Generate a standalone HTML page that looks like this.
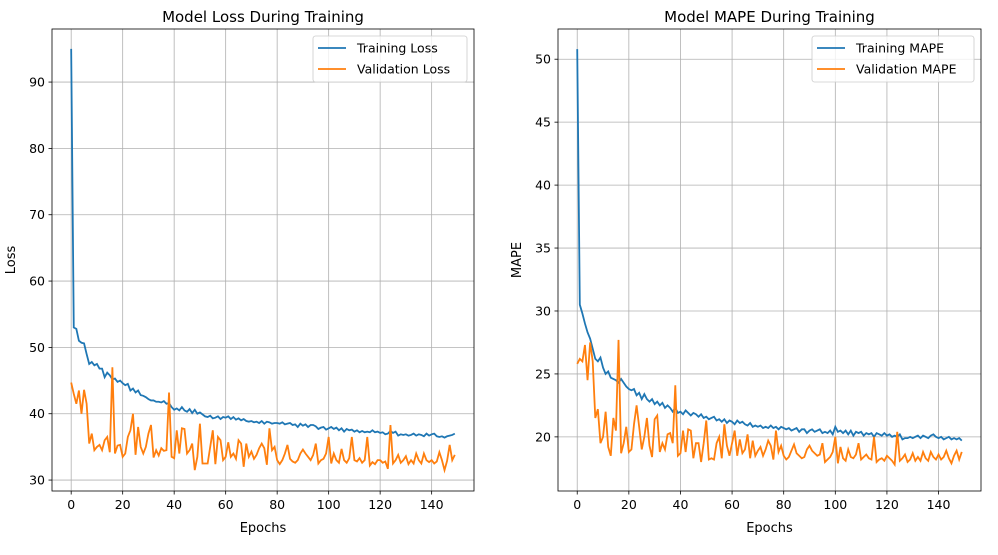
<!DOCTYPE html>
<html><head><meta charset="utf-8"><style>
body{margin:0;background:#fff;}
svg text{font-family:"DejaVu Sans","Liberation Sans",sans-serif;fill:#000;}
</style></head><body>
<svg id="fig" width="998" height="550" xmlns="http://www.w3.org/2000/svg"></svg>
<script>
const epochs = Array.from({length:150},(_,i)=>i);
const trainLoss = [95,53,52.8,51,50.7,50.6,49,47.5,47.8,47.3,47.5,46.8,46.8,45.5,46.2,45.8,45.2,45.3,44.8,45,44.6,44.3,44.5,43.5,43.8,43.2,43.5,42.8,42.7,42.5,42.2,42.0,42.0,41.8,41.8,41.7,41.9,41.5,41.6,41.0,40.6,40.8,40.5,41.0,40.5,40.3,40.7,40.1,40.6,40.0,40.2,39.9,39.6,39.5,39.7,39.3,39.4,39.6,39.2,39.5,39.4,39.6,39.2,39.5,39.1,39.3,39.0,39.2,38.9,38.8,38.9,38.7,38.8,38.6,38.9,38.5,38.8,38.7,38.5,38.6,38.6,38.5,38.7,38.4,38.5,38.6,38.3,38.4,38.0,38.5,38.2,38.4,38.0,38.3,38.3,38.1,37.7,37.9,38.0,37.6,37.8,38.0,37.7,37.9,37.5,37.8,37.3,37.7,37.5,37.6,37.3,37.5,37.2,37.4,37.2,37.3,37.2,37.5,37.2,37.3,37.1,37.2,36.9,37.0,37.4,37.1,37.3,36.7,36.9,36.8,36.9,36.7,36.8,37.0,36.7,36.9,36.8,36.6,37.0,36.7,36.9,37.0,36.6,36.5,36.6,36.4,36.6,36.7,36.8,37.0];
const valLoss = [44.7,43,41.5,43.5,40,43.6,41.5,35.5,37,34.5,35,35.3,34.5,36,36.5,34.2,47,34,35.2,35.3,33.5,34,36.5,37.5,40,33.8,38,35,34,35,37,38.3,33.4,34.5,33.7,34.8,34.4,34.5,43.2,33.5,33.3,37.5,34,37.8,37.7,34,34.5,35.5,31.5,33.5,38.5,32.5,32.5,32.5,35,37.5,32.4,36.5,36,33,33.5,35.7,33.5,34,33.2,36,35.5,32,35.5,33.5,34.3,33.2,33.8,34.8,35.5,34.8,32.3,37.8,34.5,35,33,32.4,33,34,35.3,33.2,32.8,32.6,33,34,34.6,34,33.5,33,33.8,35.5,32.5,33,33.2,34,36.5,32.5,34,33,32.6,34.7,33,32.6,33.3,36.5,33,32.8,33.3,32.6,33,36.5,32.2,32.7,32.4,33,33,32.6,32.8,31.7,38.3,32.5,33,33.8,32.6,33,33.6,32.4,33,32.5,34,33,32.5,34,33,32.7,33,32.5,32.8,34.2,33,31.5,32.9,35.3,33,33.8];
const trainMape = [50.8,30.5,29.8,29,28.3,27.8,27,26.2,26,26.3,25.5,25,25.2,24.7,24.6,24.5,24.3,24.6,24.3,24,23.8,23.7,23.8,23.3,23.5,23,23.4,23,22.8,23,22.6,22.8,22.5,22.7,22.3,22.5,22.3,22,22.3,21.9,22,21.8,22.1,21.9,21.7,21.9,21.8,21.6,21.8,21.5,21.6,21.4,21.5,21.6,21.3,21.4,21.2,21.4,21.1,21.3,21.2,21.0,21.3,21.1,21.2,21.0,20.9,21.1,20.8,20.9,20.8,20.9,20.7,20.8,20.7,20.9,20.7,20.8,20.6,20.8,20.7,20.6,20.7,20.5,20.6,20.7,20.4,20.6,20.6,20.3,20.5,20.6,20.4,20.5,20.6,20.3,20.4,20.3,20.5,20.2,20.8,20.4,20.5,20.3,20.5,20.2,20.5,20.1,20.4,20.3,20.4,20.1,20.3,20.2,20.3,20.0,20.3,20.2,20.1,20.3,20.1,20.2,20.0,20.1,20.0,20.2,19.8,19.9,19.9,20.0,19.9,20.0,20.1,19.9,20.1,20.0,19.9,20.1,20.2,20.0,19.9,20.0,19.8,19.9,20.0,19.8,19.9,19.8,19.9,19.7,19.9,20.0];
const valMape = [25.8,26.2,26,27.3,24.5,27.5,26,21.5,22.2,19.5,20,22,19.2,18.5,21.5,20.5,27.7,18.7,19.5,20.8,18.8,19,21,22.5,20.8,19,20,21.5,19.3,18.4,21.4,21.7,18.8,19.5,19,20.2,20.3,19.5,24.1,18.5,18.7,20.5,18.8,20.6,20.5,18.3,19.5,19.5,18,19.5,21.3,18.2,18.3,18.2,19.5,20,18.3,21,19.3,18.5,19.5,20.5,18.5,19.8,18.7,19,20.2,18.3,19.7,18.5,18.9,19.2,18.5,19,19.7,19.3,18.2,20.5,18.8,19.3,18.5,18.2,18.4,18.9,19.4,18.7,18.5,18.3,18.4,19,19.3,18.9,18.7,18.5,18.6,19.5,18,18.2,18.4,18.8,20,17.9,19.2,18.3,18.1,19,18.4,18.3,18.6,19.5,18.2,18.4,18.6,18.3,18.2,20,18,18.2,18.3,18.1,18.5,18.3,18.1,17.8,20.4,18.1,18.3,18.6,18,18.2,18.7,18.1,18.4,18.1,18.8,18.3,18.1,18.8,18.4,18.2,18.6,18.2,18.4,18.9,18.3,17.9,18.5,18.9,18.2,18.8,18.3];
const lossTicks=[30,40,50,60,70,80,90];
const mapeTicks=[20,25,30,35,40,45,50];
const xTicks=[0,20,40,60,80,100,120,140];

const NS="http://www.w3.org/2000/svg";
const svg=document.getElementById('fig');
function mk(tag,attrs,parent){const e=document.createElementNS(NS,tag);for(const k in attrs)e.setAttribute(k,attrs[k]);(parent||svg).appendChild(e);return e;}

function panel(cfg){
  const {L,R,T,B,xmin,xmax,ymin,ymax,yTicks,s1,s2,title,ylabel,n1,n2,prefix}=cfg;
  const g=mk('g',{});
  
  
  const X=v=>L+(v-xmin)/(xmax-xmin)*(R-L);
  const Y=v=>B-(v-ymin)/(ymax-ymin)*(B-T);
  xTicks.forEach(t=>{
    mk('line',{x1:X(t),x2:X(t),y1:T,y2:B,stroke:'#b0b0b0','stroke-width':0.8},g);
    mk('line',{x1:X(t),x2:X(t),y1:B,y2:B+3.5,stroke:'#000','stroke-width':0.8},g);
    const tx=mk('text',{x:X(t),y:B+18,'text-anchor':'middle','font-size':12.5},g);tx.textContent=t;
    
    
  });
  yTicks.forEach(t=>{
    mk('line',{x1:L,x2:R,y1:Y(t),y2:Y(t),stroke:'#b0b0b0','stroke-width':0.8},g);
    mk('line',{x1:L-3.5,x2:L,y1:Y(t),y2:Y(t),stroke:'#000','stroke-width':0.8},g);
    const tx=mk('text',{x:L-7,y:Y(t)+4.5,'text-anchor':'end','font-size':12.5},g);tx.textContent=t;
    
    
  });
  const p1=mk('polyline',{points:epochs.map((e,i)=>X(e)+','+Y(s1[i])).join(' '),fill:'none',stroke:'#1f77b4','stroke-width':1.8},g);
  
  
  const p2=mk('polyline',{points:epochs.map((e,i)=>X(e)+','+Y(s2[i])).join(' '),fill:'none',stroke:'#ff7f0e','stroke-width':1.8},g);
  
  
  mk('rect',{x:L,y:T,width:R-L,height:B-T,fill:'none',stroke:'#000','stroke-width':0.8},g);
  const ti=mk('text',{x:(L+R)/2,y:T-7,'text-anchor':'middle','font-size':15},g);ti.textContent=title;
  
  
  const xl=mk('text',{x:(L+R)/2,y:B+41,'text-anchor':'middle','font-size':13},g);xl.textContent='Epochs';
  
  
  const yl=mk('text',{x:0,y:0,'text-anchor':'middle','font-size':13,transform:`translate(${L-37},${(T+B)/2}) rotate(-90)`},g);yl.textContent=ylabel;
  
  
  const lw=cfg.legW, lx=R-lw-7, ly=T+7;
  const lg=mk('g',{},g);
  
  
  mk('rect',{x:lx,y:ly,width:lw,height:46,rx:2.5,fill:'#fff','fill-opacity':0.8,stroke:'#ccc','stroke-width':0.8},lg);
  [[n1,'#1f77b4'],[n2,'#ff7f0e']].forEach((d,i)=>{
    const yy=ly+12+i*21;
    mk('line',{x1:lx+5,x2:lx+33,y1:yy,y2:yy,stroke:d[1],'stroke-width':1.8},lg);
    const t=mk('text',{x:lx+44,y:yy+4.5,'font-size':12.5},lg);t.textContent=d[0];
    
    
  });
}
panel({L:52,R:474,T:29,B:491,xmin:-7.45,xmax:156.45,ymin:28.35,ymax:98.0,yTicks:lossTicks,s1:trainLoss,s2:valLoss,title:'Model Loss During Training',ylabel:'Loss',n1:'Training Loss',n2:'Validation Loss',prefix:'loss',legW:154});
panel({L:558,R:981,T:29,B:491,xmin:-7.45,xmax:156.45,ymin:15.7,ymax:52.4,yTicks:mapeTicks,s1:trainMape,s2:valMape,title:'Model MAPE During Training',ylabel:'MAPE',n1:'Training MAPE',n2:'Validation MAPE',prefix:'mape',legW:162});
</script>
</body></html>
